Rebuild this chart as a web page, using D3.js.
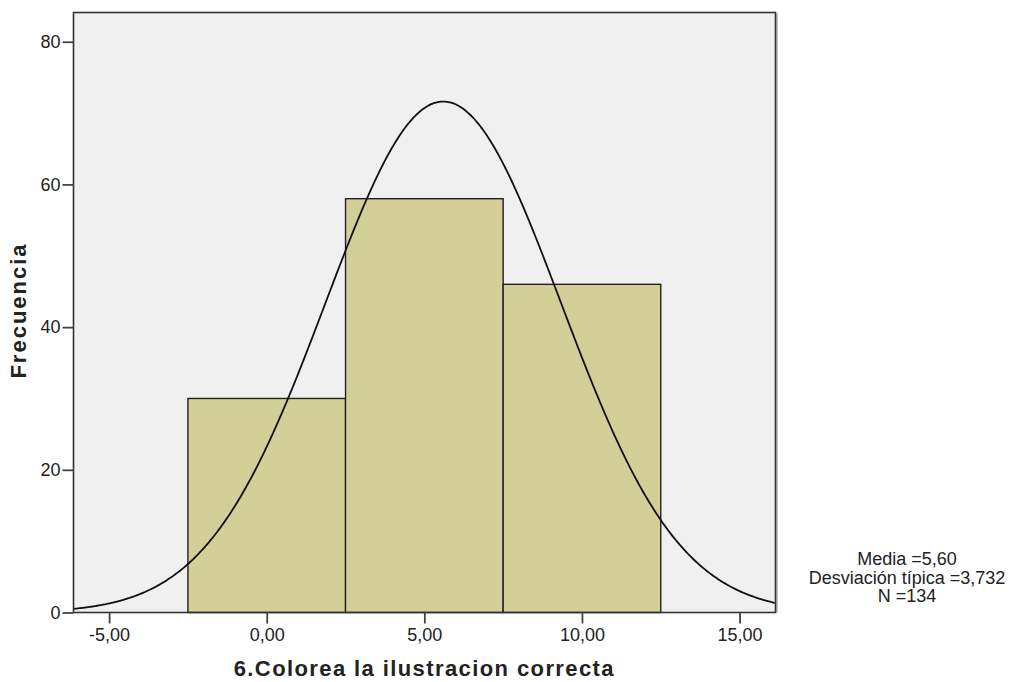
<!DOCTYPE html>
<html><head><meta charset="utf-8">
<script src="https://cdn.jsdelivr.net/npm/d3@7"></script>
<style>body{margin:0;background:#fff}svg{display:block}</style>
</head><body>
<svg id="c" width="1014" height="682"></svg>
<script>
const binStarts = [-2.5, 2.5, 7.5];
const binWidth = 5;
const counts = [30, 58, 46];
const yTicks = [0, 20, 40, 60, 80];
const xTicks = [-5, 0, 5, 10, 15];
const mean = 5.60, sd = 3.732, n = 134;
const statLines = ["Media =5,60", "Desviación típica =3,732", "N =134"];

const svg = d3.select("#c");
const L = 73.5, R = 775.5, T = 12.5, B = 612.5;
const x = d3.scaleLinear().domain([-6.13, 16.14]).range([L, R]);
const y = d3.scaleLinear().domain([0, 84.1]).range([B, T]);
const fmt = v => d3.format(".2f")(v).replace(".", ",").replace("−", "-");
const FONT = "Liberation Sans, Arial, sans-serif";

svg.append("rect").attr("x", L).attr("y", T).attr("width", R - L).attr("height", B - T).attr("fill", "#f0f0f0");

svg.append("g").selectAll("rect").data(counts).join("rect")
  .attr("x", (d, i) => x(binStarts[i]))
  .attr("y", d => y(d))
  .attr("width", (d, i) => x(binStarts[i] + binWidth) - x(binStarts[i]))
  .attr("height", d => y(0) - y(d))
  .attr("fill", "#d3cf98").attr("stroke", "#222").attr("stroke-width", 1.4);

const pts = d3.range(-6.13, 16.15, 0.05);
const pdf = v => n * binWidth / (sd * Math.sqrt(2 * Math.PI)) * Math.exp(-0.5 * ((v - mean) / sd) ** 2);
svg.append("path").datum(pts)
  .attr("d", d3.line().x(v => x(v)).y(v => y(pdf(v))).curve(d3.curveBasis))
  .attr("fill", "none").attr("stroke", "#111").attr("stroke-width", 1.8);

svg.append("line").attr("x1", R + 1.5).attr("x2", R + 1.5).attr("y1", T + 1).attr("y2", B)
  .attr("stroke", "#999").attr("stroke-width", 1.2);
svg.append("rect").attr("x", L).attr("y", T).attr("width", R - L).attr("height", B - T)
  .attr("fill", "none").attr("stroke", "#333").attr("stroke-width", 1.6);

const yAxis = svg.append("g").attr("transform", `translate(${L},0)`)
  .call(d3.axisLeft(y).tickValues(yTicks).tickSize(11).tickPadding(2).tickFormat(d3.format("d")));
const xAxis = svg.append("g").attr("transform", `translate(0,${B})`)
  .call(d3.axisBottom(x).tickValues(xTicks).tickSize(11).tickPadding(5).tickFormat(fmt));
[yAxis, xAxis].forEach(a => {
  a.select(".domain").remove();
  a.selectAll(".tick line").attr("stroke", "#444").attr("stroke-width", 1.8);
  a.selectAll(".tick text").attr("fill", "#222").style("font-family", FONT).style("font-size", "18px");
});

svg.append("text").attr("x", x(5)).attr("y", 676).attr("text-anchor", "middle")
  .style("font-family", FONT).style("font-weight", "bold").style("font-size", "22px")
  .style("letter-spacing", "1.4px").attr("fill", "#222")
  .text("6.Colorea la ilustracion correcta");
svg.append("text").attr("transform", `translate(26,${(T + B) / 2 - 2}) rotate(-90)`).attr("text-anchor", "middle")
  .style("font-family", FONT).style("font-weight", "bold").style("font-size", "22px")
  .style("letter-spacing", "2px").attr("fill", "#222")
  .text("Frecuencia");

svg.append("g").selectAll("text").data(statLines).join("text")
  .attr("x", 907).attr("y", (d, i) => 565 + i * 18.5).attr("text-anchor", "middle")
  .style("font-family", FONT).style("font-size", "18px").attr("fill", "#222")
  .text(d => d);
</script>
</body></html>
